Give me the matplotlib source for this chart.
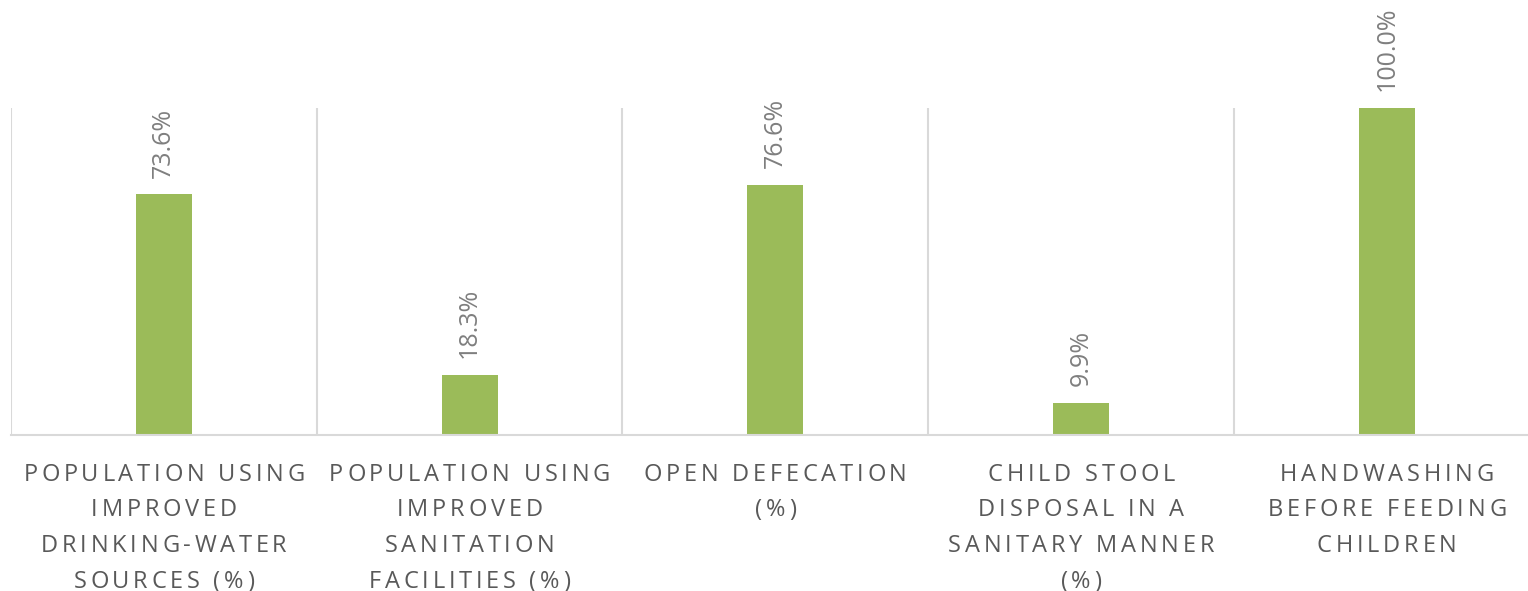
import matplotlib.pyplot as plt
from matplotlib.font_manager import FontProperties, findfont, get_font

categories = [
    "POPULATION USING\nIMPROVED\nDRINKING-WATER\nSOURCES (%)",
    "POPULATION USING\nIMPROVED\nSANITATION\nFACILITIES (%)",
    "OPEN DEFECATION\n(%)",
    "CHILD STOOL\nDISPOSAL IN A\nSANITARY MANNER\n(%)",
    "HANDWASHING\nBEFORE FEEDING\nCHILDREN",
]
values = [73.6, 18.3, 76.6, 9.9, 100.0]

plt.rcParams['font.family'] = ['Open Sans', 'DejaVu Sans']

fig = plt.figure(figsize=(15.28, 5.91), dpi=100)
W, H = 1528, 591
# axes runs a little past the right edge of the figure
ax = fig.add_axes([11 / W, 156 / H, 1528.75 / W, 327 / H])

x = list(range(len(values)))
ax.bar(x, values, width=0.183, color="#9bbb59", zorder=2)

ax.set_xlim(-0.5, len(values) - 0.5)
ax.set_ylim(0, 100)

# separators between categories
for b in range(len(values) + 1):
    ax.axvline(b - 0.5, color="#d9d9d9", lw=1.5, zorder=1)

for s in ["top", "right", "left"]:
    ax.spines[s].set_visible(False)
ax.spines["bottom"].set_color("#d9d9d9")
ax.spines["bottom"].set_linewidth(1.5)
ax.set_yticks([])
ax.set_xticks([])

for xi, v in zip(x, values):
    ax.annotate(f"{v:.1f}%", (xi, v), xytext=(0, 12), textcoords="offset points",
                rotation=90, ha="center", va="bottom", fontsize=18,
                color="#7f7f7f", annotation_clip=False)

# category labels with letter spacing, placed glyph by glyph
lab_size = 17
tracking = 2.7          # pt between letters
line_pitch = 35.5 * 0.72  # pt
first_base = 46 * 0.72  # pt below the axis
prop = FontProperties(family="Open Sans", size=lab_size)
font = get_font(findfont(prop))
font.set_size(lab_size, 72)


def advance(ch):
    g = font.load_char(ord(ch))
    return g.linearHoriAdvance / 65536


for xi, lab in zip(x, categories):
    for k, line in enumerate(lab.split("\n")):
        adv = [advance(c) for c in line]
        total = sum(adv) + tracking * (len(line) - 1)
        pos = -total / 2
        y_off = -(first_base + k * line_pitch)
        for c, a in zip(line, adv):
            if c != " ":
                ax.annotate(c, (xi, 0), xycoords=ax.get_xaxis_transform(),
                            xytext=(pos, y_off), textcoords="offset points",
                            ha="left", va="baseline", fontproperties=prop,
                            color="#595959", annotation_clip=False)
            pos += a + tracking

fig.savefig("out.png", dpi=100)
